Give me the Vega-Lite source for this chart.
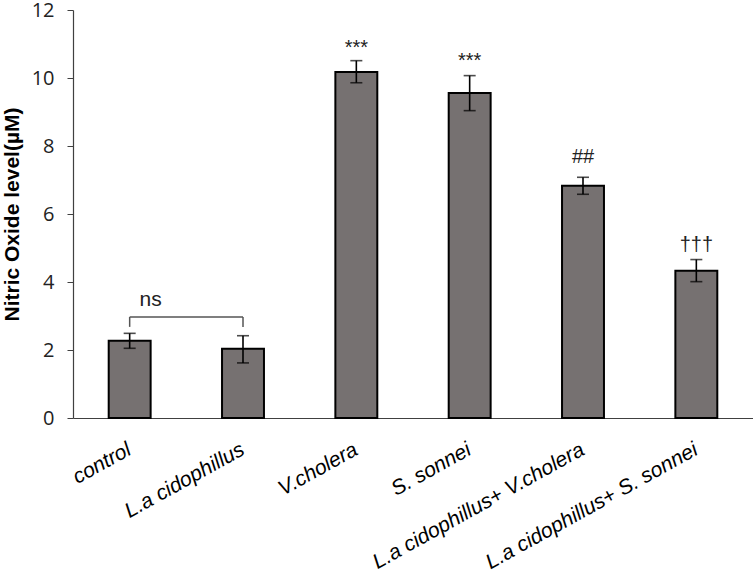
{
  "$schema": "https://vega.github.io/schema/vega-lite/v6.json",
  "width": 680,
  "height": 408,
  "autosize": "none",
  "padding": {"left": 73, "top": 10, "right": 0, "bottom": 156},
  "background": "white",
  "config": {"view": {"stroke": null}},
  "data": {
    "values": [
      {"group": "control", "mean": 2.27, "lo": 2.05, "hi": 2.49, "sig": "", "sigY": null},
      {"group": "L.a cidophillus", "mean": 2.04, "lo": 1.62, "hi": 2.42, "sig": "", "sigY": null},
      {"group": "V.cholera", "mean": 10.18, "lo": 9.86, "hi": 10.51, "sig": "***", "sigY": 10.88},
      {"group": "S. sonnei", "mean": 9.56, "lo": 9.04, "hi": 10.07, "sig": "***", "sigY": 10.5},
      {"group": "L.a cidophillus+ V.cholera", "mean": 6.83, "lo": 6.58, "hi": 7.08, "sig": "##", "sigY": 7.68},
      {"group": "L.a cidophillus+ S. sonnei", "mean": 4.33, "lo": 4.01, "hi": 4.66, "sig": "†††", "sigY": 5.09}
    ]
  },
  "encoding": {
    "x": {
      "field": "group",
      "type": "nominal",
      "sort": null,
      "scale": {"paddingInner": 0.63, "paddingOuter": 0.315},
      "axis": {
        "title": null,
        "labelAngle": -29,
        "labelAlign": "right",
        "labelBaseline": "middle",
        "labelPadding": 30,
        "labelFont": "Liberation Sans",
        "labelFontStyle": "italic",
        "labelFontSize": 21,
        "labelColor": "black",
        "labelLimit": 400,
        "ticks": false,
        "domainColor": "#404040",
        "domainWidth": 1.2
      }
    }
  },
  "layer": [
    {
      "mark": {"type": "bar", "fill": "#767171", "stroke": "black", "strokeWidth": 2},
      "encoding": {
        "y": {
          "field": "mean",
          "type": "quantitative",
          "scale": {"domain": [0, 12], "nice": false},
          "axis": {
            "values": [0, 2, 4, 6, 8, 10, 12],
            "grid": false,
            "title": "Nitric Oxide level(µM)",
            "titleFont": "Liberation Sans",
            "titleFontSize": 21,
            "titleFontWeight": "bold",
            "titleColor": "black",
            "titlePadding": 9,
            "labelFont": "Open Sans",
            "labelFontSize": 20,
            "labelColor": "#222222",
            "labelPadding": 13,
            "tickSize": 6,
            "tickColor": "#404040",
            "domainColor": "#404040",
            "domainWidth": 1.2
          }
        }
      }
    },
    {
      "mark": {"type": "rule", "stroke": "black", "strokeWidth": 1.6},
      "encoding": {"y": {"field": "lo", "type": "quantitative"}, "y2": {"field": "hi"}}
    },
    {
      "mark": {"type": "tick", "color": "black", "thickness": 1.6, "size": 12},
      "encoding": {"y": {"field": "lo", "type": "quantitative"}}
    },
    {
      "mark": {"type": "tick", "color": "black", "thickness": 1.6, "size": 12},
      "encoding": {"y": {"field": "hi", "type": "quantitative"}}
    },
    {
      "mark": {"type": "text", "font": "Liberation Sans", "fontSize": 20, "color": "#222222", "baseline": "middle"},
      "transform": [{"filter": "datum.sig != ''"}],
      "encoding": {"y": {"field": "sigY", "type": "quantitative"}, "text": {"field": "sig"}}
    },
    {
      "data": {"values": [{"a": "control", "b": "L.a cidophillus", "y": 2.97}]},
      "mark": {"type": "rule", "stroke": "#555555", "strokeWidth": 1.5},
      "encoding": {"x": {"field": "a", "type": "nominal", "sort": null}, "x2": {"field": "b"}, "y": {"field": "y", "type": "quantitative"}}
    },
    {
      "data": {"values": [{"g": "control", "y1": 2.68, "y2": 2.97}, {"g": "L.a cidophillus", "y1": 2.68, "y2": 2.97}]},
      "mark": {"type": "rule", "stroke": "#555555", "strokeWidth": 1.5},
      "encoding": {"x": {"field": "g", "type": "nominal", "sort": null}, "y": {"field": "y1", "type": "quantitative"}, "y2": {"field": "y2"}}
    },
    {
      "data": {"values": [{"g": "control", "t": "ns", "y": 3.47}]},
      "mark": {"type": "text", "font": "Liberation Sans", "fontSize": 21, "color": "#222222", "baseline": "middle"},
      "encoding": {"x": {"field": "g", "type": "nominal", "sort": null, "bandPosition": 1}, "y": {"field": "y", "type": "quantitative"}, "text": {"field": "t"}}
    }
  ]
}
